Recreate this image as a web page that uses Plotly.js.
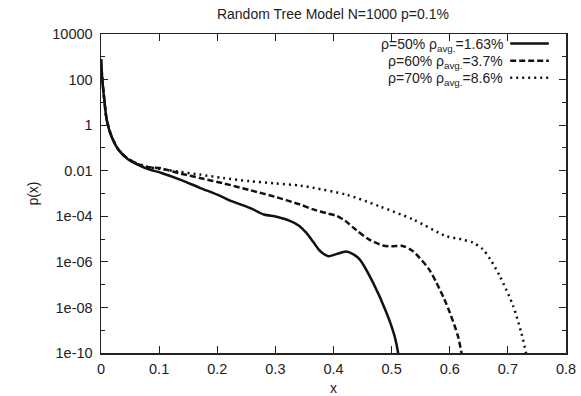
<!DOCTYPE html>
<html><head><meta charset="utf-8">
<script src="https://cdn.plot.ly/plotly-3.0.1.min.js"></script>
<style>html,body{margin:0;padding:0;background:#fff}#chart{width:581px;height:396px}</style>
</head><body><div id="chart"></div>
<script>
const seriesNames = ["ρ=50% ρ<sub>avg.</sub>=1.63%", "ρ=60% ρ<sub>avg.</sub>=3.7%", "ρ=70% ρ<sub>avg.</sub>=8.6%"];

const x50 = [0, 0.0023, 0.0057, 0.0098, 0.018, 0.030, 0.047, 0.076, 0.104, 0.136, 0.17, 0.20, 0.222, 0.256, 0.28, 0.302, 0.325, 0.34, 0.353, 0.365, 0.376, 0.391, 0.405, 0.422, 0.435, 0.445, 0.468, 0.491, 0.505, 0.511, 0.513];
const y50 = [776, 97.7, 12.9, 1.74, 0.324, 0.0832, 0.0309, 0.0132, 0.00794, 0.00407, 1.78e-3, 8.91e-4, 4.9e-4, 2.34e-4, 1.20e-4, 9.55e-5, 6.31e-5, 3.98e-5, 1.91e-5, 7.59e-6, 3.16e-6, 1.78e-6, 2.19e-6, 2.82e-6, 2.09e-6, 1.29e-6, 1.23e-7, 6.03e-9, 5.62e-10, 1.07e-10, 5.0e-11];

const x60 = [0, 0.0023, 0.0057, 0.0098, 0.018, 0.030, 0.047, 0.076, 0.104, 0.136, 0.17, 0.21, 0.256, 0.30, 0.342, 0.365, 0.39, 0.405, 0.42, 0.439, 0.46, 0.485, 0.50, 0.519, 0.535, 0.548, 0.565, 0.577, 0.59, 0.60, 0.614, 0.62, 0.622];
const y60 = [776, 97.7, 12.9, 1.74, 0.324, 0.0851, 0.0324, 0.0151, 0.0126, 0.00759, 0.00479, 0.00282, 0.00141, 7.08e-4, 3.31e-4, 2.0e-4, 1.32e-4, 1.05e-4, 6.31e-5, 2.51e-5, 1.0e-5, 5.25e-6, 4.79e-6, 5.01e-6, 3.16e-6, 1.51e-6, 4.47e-7, 1.23e-7, 2.51e-8, 6.03e-9, 5.62e-10, 1.07e-10, 5.0e-11];

const x70 = [0, 0.0023, 0.0057, 0.0098, 0.018, 0.030, 0.047, 0.076, 0.104, 0.136, 0.17, 0.21, 0.256, 0.30, 0.342, 0.365, 0.422, 0.479, 0.537, 0.594, 0.62, 0.64, 0.657, 0.67, 0.686, 0.709, 0.723, 0.731, 0.733];
const y70 = [776, 97.7, 12.9, 1.74, 0.324, 0.0851, 0.0324, 0.0158, 0.0117, 0.00891, 0.00676, 0.00479, 0.00347, 0.00275, 0.00224, 0.00178, 8.91e-4, 2.75e-4, 7.24e-5, 1.35e-5, 9.77e-6, 6.92e-6, 3.55e-6, 1.26e-6, 2.40e-7, 1.17e-8, 7.94e-10, 1.07e-10, 5.0e-11];

const yTickVals = [1e4, 1e2, 1, 1e-2, 1e-4, 1e-6, 1e-8, 1e-10];
const yTickText = ["10000", "100", "1", "0.01", "1e-04", "1e-06", "1e-08", "1e-10"];
const yMinorVals = [1e3, 1e1, 1e-1, 1e-3, 1e-5, 1e-7, 1e-9];
const xTickVals = [0, 0.1, 0.2, 0.3, 0.4, 0.5, 0.6, 0.7, 0.8];
const xTickText = ["0", "0.1", "0.2", "0.3", "0.4", "0.5", "0.6", "0.7", "0.8"];

const dashes = ["solid", "6px,3px", "2px,4px"];
const xs = [x50, x60, x70], ys = [y50, y60, y70];

const FONT = "Liberation Sans, Arial, Helvetica, sans-serif";
const traces = xs.map((xv, i) => ({
  x: xv, y: ys[i], type: "scatter", mode: "lines", name: seriesNames[i],
  line: {color: "#111", width: 2.5, dash: dashes[i], shape: "spline", smoothing: 0.8},
  showlegend: false
}));

// gnuplot-style legend: right-aligned text, sample to the right
const rowY = [0.966, 0.912, 0.859];
const annotations = seriesNames.map((n, i) => ({
  xref: "paper", yref: "paper", x: 0.869, y: rowY[i], xanchor: "right", yanchor: "middle",
  text: n, showarrow: false, font: {family: FONT, size: 14, color: "#222"}
}));
const shapes = dashes.map((d, i) => ({
  type: "line", xref: "paper", yref: "paper", x0: 0.880, x1: 0.963, y0: rowY[i] + 0.004, y1: rowY[i] + 0.004,
  line: {color: "#111", width: 2.5, dash: d}
}));

const layout = {
  width: 581, height: 396,
  margin: {l: 101, r: 15, t: 34, b: 43},
  paper_bgcolor: "#fff", plot_bgcolor: "#fff",
  font: {family: FONT, size: 14, color: "#222"},
  title: {text: "Random Tree Model N=1000 p=0.1%", x: 0.573, xanchor: "center", y: 0.965, yanchor: "middle",
          font: {family: FONT, size: 14, color: "#222"}},
  xaxis: {
    range: [0, 0.8], tickmode: "array", tickvals: xTickVals, ticktext: xTickText,
    ticks: "inside", ticklen: 7, tickcolor: "#222", tickwidth: 1, ticklabelstandoff: 2,
    showline: true, linecolor: "#222", linewidth: 1.5, mirror: "ticks", showgrid: false, zeroline: false,
    title: {text: "x", standoff: 9, font: {family: FONT, size: 14, color: "#222"}},
    tickfont: {family: FONT, size: 14.5, color: "#222"}
  },
  yaxis: {
    type: "log", range: [-10, 4], tickmode: "array", tickvals: yTickVals, ticktext: yTickText,
    ticks: "inside", ticklen: 7, tickcolor: "#222", tickwidth: 1, ticklabelstandoff: 4,
    minor: {tickmode: "array", tickvals: yMinorVals, ticks: "inside", ticklen: 4, tickcolor: "#222", showgrid: false},
    showline: true, linecolor: "#222", linewidth: 1.5, mirror: "ticks", showgrid: false, zeroline: false,
    title: {text: "p(x)", standoff: 10, font: {family: FONT, size: 14, color: "#222"}},
    tickfont: {family: FONT, size: 14.5, color: "#222"}
  },
  annotations: annotations,
  shapes: shapes,
  showlegend: false
};

Plotly.newPlot("chart", traces, layout, {displayModeBar: false, staticPlot: true});
</script></body></html>
